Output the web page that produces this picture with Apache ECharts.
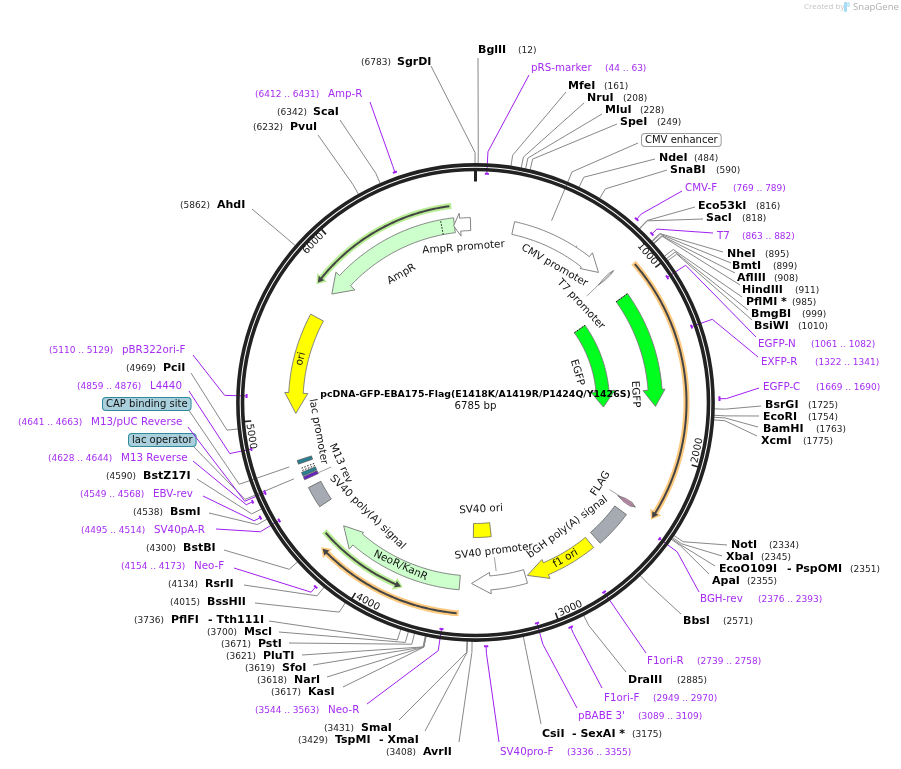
<!DOCTYPE html>
<html>
<head>
<meta charset="utf-8">
<style>html,body{margin:0;background:#fff}#map{width:901px;height:769px}</style>
<script src="https://cdn.jsdelivr.net/npm/echarts@6/dist/echarts.min.js"></script>
</head>
<body>
<div id="map"></div>
<script>
const plasmidName = 'pcDNA-GFP-EBA175-Flag(E1418K/A1419R/P1424Q/Y1426S)';
const plasmidLength = 6785;
const tickPositions = [1000, 2000, 3000, 4000, 5000, 6000];

// restriction sites
const siteNames = ['BglII','MfeI','NruI','MluI','SpeI','NdeI','SnaBI','Eco53kI','SacI','NheI','BmtI','AflIII','HindIII','PflMI *','BmgBI','BsiWI','BsrGI','EcoRI','BamHI','XcmI','NotI','XbaI','EcoO109I','ApaI','BbsI','DraIII','CsiI','AvrII','TspMI','SmaI','KasI','NarI','SfoI','PluTI','PstI','MscI','PflFI','BssHII','RsrII','BstBI','BsmI','BstZ17I','PciI','AhdI','PvuI','ScaI','SgrDI'];
const sitePositions = [12,161,208,228,249,484,590,816,818,895,899,908,911,985,999,1010,1725,1754,1763,1775,2334,2345,2351,2355,2571,2885,3175,3408,3429,3431,3617,3618,3619,3621,3671,3700,3736,4015,4134,4300,4538,4590,4969,5862,6232,6342,6783];
const siteAliases = {EcoO109I: '- PspOMI', CsiI: '- SexAI *', TspMI: '- XmaI', PflFI: '- Tth111I'};

// primers
const primerNames = ['pRS-marker','CMV-F','T7','EGFP-N','EXFP-R','EGFP-C','BGH-rev','F1ori-R','F1ori-F',"pBABE 3'",'SV40pro-F','Neo-R','Neo-F','SV40pA-R','EBV-rev','M13 Reverse','M13/pUC Reverse','L4440','pBR322ori-F','Amp-R'];
const primerStarts = [44,769,863,1061,1322,1669,2376,2739,2949,3089,3336,3544,4154,4495,4549,4628,4641,4859,5110,6412];
const primerEnds = [63,789,882,1082,1341,1690,2393,2758,2970,3109,3355,3563,4173,4514,4568,4644,4663,4876,5129,6431];

// features that only show as a boxed label
const boxNames = ['CMV enhancer','CAP binding site','lac operator'];
const boxPositions = [428,4729,4659];

// feature arrows: tail, start of head, tip (bp)
const featureNames = ['AmpR','AmpR promoter','ori','CMV promoter','EGFP outer','EGFP inner','f1 ori','SV40 promoter','NeoR/KanR'];
const featureTails = [6657,6755,5620,230,1025,1033,2654,3090,3487];
const featureBases = [5900,6692,5146,716,1620,1602,2960,3304,4160];
const featureTips = [5787,6652,5023,818,1720,1735,3078,3416,4277];

// features without a head
const blockNames = ['bGH poly(A) signal','SV40 poly(A) signal','SV40 ori','CAP binding site','lac promoter','lac operator','M13 rev'];
const blockStarts = [2386,4452,3266,4727,4677,4654,4630];
const blockEnds = [2610,4580,3410,4749,4707,4676,4649];

// translated regions
const orfNames = ['AmpR','NeoR/KanR','EGFP','NeoR/KanR'];
const orfStarts = [6642,4316,924,3489];
const orfEnds = [5790,3808,2322,4265];

// names written on the map
const trackLabels = ['AmpR promoter','AmpR','ori','CMV promoter','T7 promoter','EGFP','EGFP','FLAG','bGH poly(A) signal','f1 ori','SV40 promoter','SV40 ori','NeoR/KanR','SV40 poly(A) signal','M13 rev','lac promoter'];
const trackLabelPositions = [6702,6220,5353,565,886,1387,1640,2318,2706,2827,3261,3336,3858,4231,4631,4891];

// layout, all pixels: [name x, number x, y, leader end x, leader end y, alias x]
const siteLayout = [[478,518,50,478,58],[568,604,86,566,92],[587,623,98,584,103],[605,640,110,602,114],[620,657,122,617,124],[659,694,158,655,159],[670,716,170,667,170],[698,756,206,695,207],[706,742,218,703,219],[727,765,254,723,252],[732,773,266,731,263],[737,774,278,735,273],[742,795,290,740,285],[746,792,302,742,297],[751,802,314,748,310],[754,798,326,752,320],[765,808,405,761,406],[763,808,417,759,416],[763,816,429,758,427],[761,803,441,757,436],[731,769,545,727,545],[726,761,557,722,556],[719,850,569,715,566,787],[712,747,581,709,574],[683,723,621,681,614],[628,677,680,626,672],[542,632,734,541,724,572],[423,386,752,459,742],[335,298,740,425,731,379],[361,324,728,399,720],[308,271,692,343,687],[294,257,680,327,677],[282,245,668,313,665],[263,226,656,302,655],[258,221,644,289,643],[244,207,632,279,632],[171,134,620,269,621,208],[207,170,602,255,603],[205,168,584,244,585],[183,146,548,224,550],[170,133,512,209,513],[143,106,476,197,479],[163,126,368,191,373],[217,180,205,252,209],[290,253,127,318,135],[313,277,112,340,120],[397,361,62,431,66]];
const primerLayout = [[531,605,68,529,75,229],[685,733,188,682,191,244],[717,742,236,713,233,244],[758,811,344,756,337,229],[761,815,362,758,357,229],[763,816,387,759,388,244],[700,758,599,699,592,229],[647,697,661,646,653,229],[604,653,698,602,688,244],[578,638,716,577,708,229],[500,567,752,499,742,244],[328,255,710,367,704,229],[194,121,566,234,568,244],[154,81,530,216,529,229],[153,80,494,203,496,244],[121,48,458,193,461,244],[91,18,422,188,427,229],[150,77,386,189,391,229],[122,49,350,193,355,229],[328,255,94,370,102,244]];
const boxLayout = [[642,140,638,143,'#fff','#999'],[103,404,188,409,'#a9d0dc','#2f8a9b'],[129,440,192,445,'#a9d0dc','#2f8a9b']];
// [r in, r out, head in, head out, tip r, fill]
const featureLayout = [[171,186,165,191,180,'#ccffcc'],[172,185,167,190,178,'#fff'],[172.5,187,168,191,180,'#ffff00'],[172,185,170,190,179,'#fff'],[173,187,168,190,180,'#00ff1e'],[121,134,116,140,128,'#00ff1e'],[174,187,170.5,191,180.5,'#ffff00'],[174,188,170.5,192,181,'#fff'],[173.5,188,171.5,193.5,180.5,'#ccffcc']];
const blockLayout = [[173.5,188,'#a6abb3'],[173.5,187.5,'#a6abb3'],[121,135,'#ffff00'],[172.5,187.5,'#2a7f93'],[172.5,187.5,'#fff'],[172.5,187.5,'#2a7f93'],[172.5,187.5,'#6a22c4']];
const orfLayout = [[198,'#b9ee96'],[198.5,'#b9ee96'],[211,'#fcc97f'],[211.5,'#fcc97f']];
const trackLabelRadii = [155.5,148,180,158,144,106,160,149,155,180,150,107,179.5,154,148,160];
// [bp, r from, r to]
const featureLeaders = [[620,173,187],[872,154,170],[2318,160,172],[3261,156,170],[4635,158,172]];

const PURPLE = '#a020f0', GREY = '#888', FONT = '"DejaVu Sans"';

const deg2bp = 6785 / 360;
const labelRotation = (pos) => {
    let t = pos / deg2bp;
    return t > 100 && t < 270 ? t - 180 : t;
};
const line = (points, stroke, lineWidth, dash) => ({
    type: 'polyline', shape: {points}, silent: true,
    style: {stroke, lineWidth, fill: null, lineDash: dash || null}
});
const poly = (points, fill, stroke, lineWidth) => ({
    type: 'polygon', shape: {points}, silent: true,
    style: {fill, stroke: stroke || null, lineWidth: lineWidth || 0}
});
const text = (str, x, y, font, fill, extra) => ({
    type: 'text', silent: true,
    style: Object.assign({text: str, x, y, font, fill, verticalAlign: 'middle', align: 'left'}, extra || {})
});
const arc = (api, r, from, to) => {
    let n = Math.max(2, Math.ceil(Math.abs(to - from) / 12)), pts = [];
    for (let i = 0; i <= n; i++) pts.push(api.coord([r, from + (to - from) * i / n]));
    return pts;
};
// arc band with an optional head
const arrowPoints = (api, rIn, rOut, headIn, headOut, tipR, tail, base, tip) => {
    let pts = arc(api, rOut, tail, base);
    if (base !== tip) pts.push(api.coord([headOut, base]), api.coord([tipR, tip]), api.coord([headIn, base]));
    return pts.concat(arc(api, rIn, base, tail));
};
const rotated = (api, str, r, pos, font, fill) => {
    let c = api.coord([r, pos]);
    return {
        type: 'text', silent: true, x: c[0], y: c[1],
        rotation: -labelRotation(pos) * Math.PI / 180,
        style: {text: str, x: 0, y: 0, font, fill, align: 'center', verticalAlign: 'middle'}
    };
};

const base = {type: 'custom', coordinateSystem: 'polar', silent: true, animation: false};

const siteSeries = Object.assign({}, base, {
    name: 'sites',
    data: sitePositions.map((p) => [250, p]),
    renderItem: (params, api) => {
        let i = params.dataIndex, l = siteLayout[i], name = siteNames[i], pos = sitePositions[i];
        let kids = [
            line([api.coord([236, pos]), api.coord([250, pos]), [l[3], l[4]]], GREY, 1),
            text(name, l[0], l[2], 'bold 11px ' + FONT, '#000'),
            text('(' + pos + ')', l[1], l[2] + 0.5, '9px ' + FONT, '#222')
        ];
        if (siteAliases[name]) kids.push(text(siteAliases[name], l[5], l[2], 'bold 11px ' + FONT, '#000'));
        return {type: 'group', children: kids};
    }
});

const boxSeries = Object.assign({}, base, {
    name: 'boxes',
    data: boxPositions.map((p) => [250, p]),
    renderItem: (params, api) => {
        let i = params.dataIndex, l = boxLayout[i], pos = boxPositions[i];
        return {type: 'group', children: [
            line([api.coord([197, pos]), api.coord([250, pos]), [l[2], l[3]]], GREY, 1),
            text(boxNames[i], l[0], l[1], '10px ' + FONT, '#111', {
                backgroundColor: l[4], borderColor: l[5], borderWidth: 1, borderRadius: 3, padding: [1, 3, 1, 3]
            })
        ]};
    }
});

const primerSeries = Object.assign({}, base, {
    name: 'primers',
    data: primerStarts.map((p) => [240, p]),
    renderItem: (params, api) => {
        let i = params.dataIndex, l = primerLayout[i], s = primerStarts[i], e = primerEnds[i], mid = (s + e) / 2;
        return {type: 'group', children: [
            line([api.coord([l[5], mid]), api.coord([251, mid]), [l[3], l[4]]], PURPLE, 1),
            line(arc(api, l[5], s, e), PURPLE, 2),
            text(primerNames[i], l[0], l[2], '10.3px ' + FONT, '#a52cf2'),
            text('(' + s + ' .. ' + e + ')', l[1], l[2] + 0.5, '9px ' + FONT, '#a52cf2')
        ]};
    }
});

const ringSeries = Object.assign({}, base, {
    name: 'ring',
    data: [[238, 0]],
    renderItem: (params, api) => {
        let c = api.coord([0, 0]);
        let circle = (r) => ({
            type: 'circle', silent: true,
            shape: {cx: c[0], cy: c[1], r},
            style: {fill: null, stroke: '#222', lineWidth: 3.6}
        });
        return {type: 'group', children: [
            circle(237.6), circle(233),
            line([api.coord([233, 0]), api.coord([221, 0])], '#222', 3)
        ]};
    }
});

const tickSeries = Object.assign({}, base, {
    name: 'ticks',
    data: tickPositions.map((p) => [230, p]),
    renderItem: (params, api) => {
        let p = tickPositions[params.dataIndex];
        return {type: 'group', children: [
            line([api.coord([233, p]), api.coord([225, p])], '#222', 1.6),
            rotated(api, String(p), 227, p - 3.9 * deg2bp, '10px ' + FONT, '#111')
        ]};
    }
});

const orfSeries = Object.assign({}, base, {
    name: 'orfs',
    data: orfStarts.map((p) => [200, p]),
    renderItem: (params, api) => {
        let i = params.dataIndex, r = orfLayout[i][0], s = orfStarts[i], e = orfEnds[i];
        let dir = e > s ? 1 : -1, px = 6785 / (2 * Math.PI * r);
        return {type: 'group', children: [
            poly(arrowPoints(api, r - 3, r + 3, r - 6.5, r + 6.5, r, s - dir * 2 * px, e - dir * 7 * px, e + dir * 2 * px), orfLayout[i][1]),
            poly(arrowPoints(api, r - 1, r + 1, r - 3.5, r + 3.5, r, s, e - dir * 6 * px, e), '#444')
        ]};
    }
});

const featureSeries = Object.assign({}, base, {
    name: 'features',
    data: featureTails.map((p) => [180, p]),
    renderItem: (params, api) => {
        let i = params.dataIndex, l = featureLayout[i];
        let kids = [poly(arrowPoints(api, l[0], l[1], l[2], l[3], l[4], featureTails[i], featureBases[i], featureTips[i]), l[5], '#777', 0.9)];
        // dotted end on the coding features
        if (featureNames[i] === 'AmpR') kids.push(line([api.coord([l[0], 6580]), api.coord([l[1], 6580])], '#111', 1, [1.5, 1.5]));
        if (l[5] === '#00ff1e') kids.push(line([api.coord([l[0], featureTails[i]]), api.coord([l[1], featureTails[i]])], '#111', 1, [1.5, 1.5]));
        return {type: 'group', children: kids};
    }
});

const blockSeries = Object.assign({}, base, {
    name: 'blocks',
    data: blockStarts.map((p) => [180, p]),
    renderItem: (params, api) => {
        let i = params.dataIndex, l = blockLayout[i], s = blockStarts[i], e = blockEnds[i];
        let kids = [poly(arrowPoints(api, l[0], l[1], 0, 0, 0, s, e, e), l[2], blockNames[i] === 'lac promoter' ? null : '#555', 0.7)];
        if (blockNames[i] === 'lac promoter') {
            kids.push(line([api.coord([l[0], s + 8]), api.coord([l[1], s + 8])], '#222', 1, [1.5, 1.5]));
            kids.push(line([api.coord([l[0], e - 8]), api.coord([l[1], e - 8])], '#222', 1, [1.5, 1.5]));
        }
        return {type: 'group', children: kids};
    }
});

// the T7 promoter and FLAG are so short they show as slivers standing on the track
const sliverSeries = Object.assign({}, base, {
    name: 'slivers',
    data: [[180, 863], [180, 2310]],
    renderItem: (params, api) => {
        let flag = params.dataIndex === 1;
        let s = flag ? 2310 : 866, e = flag ? 2334 : 879, m = (s + e) / 2;
        return {type: 'group', children: [
            poly([api.coord([170, m]), api.coord([178, s]), api.coord([186, s]), api.coord([191, m]), api.coord([186, e]), api.coord([178, e])],
                flag ? '#c68ab0' : '#fff', '#777', 0.8),
            line([api.coord([170, m]), api.coord([191, m])], '#777', 0.7)
        ]};
    }
});

const leaderSeries = Object.assign({}, base, {
    name: 'featureLeaders',
    data: featureLeaders.map((l) => [l[1], l[0]]),
    renderItem: (params, api) => {
        let l = featureLeaders[params.dataIndex];
        return line([api.coord([l[1], l[0]]), api.coord([l[2], l[0]])], GREY, 0.8);
    }
});

const labelSeries = Object.assign({}, base, {
    name: 'trackLabels',
    data: trackLabelPositions.map((p, i) => [trackLabelRadii[i], p]),
    renderItem: (params, api) => {
        let i = params.dataIndex;
        return rotated(api, trackLabels[i], trackLabelRadii[i], trackLabelPositions[i], '10.4px ' + FONT, '#111');
    }
});

const chart = echarts.init(document.getElementById('map'), null, {renderer: 'canvas'});
chart.setOption({
    backgroundColor: '#fff',
    animation: false,
    title: {
        text: plasmidName,
        subtext: plasmidLength + ' bp',
        left: 475.5, top: 388.5, textAlign: 'center', itemGap: 0, padding: 0,
        textStyle: {fontFamily: 'DejaVu Sans', fontWeight: 'bold', fontSize: 9.4, color: '#000', lineHeight: 12},
        subtextStyle: {fontFamily: 'DejaVu Sans', fontSize: 10.2, color: '#111', lineHeight: 12}
    },
    polar: {center: [475.5, 402.5], radius: 300},
    angleAxis: {type: 'value', min: 0, max: plasmidLength, startAngle: 90, clockwise: true, show: false},
    radiusAxis: {type: 'value', min: 0, max: 300, show: false},
    graphic: [
        {type: 'text', x: 804, y: 3, silent: true, style: {text: 'Created by', font: '8px "Open Sans"', fill: '#c4c4c4'}},
        {type: 'rect', x: 844, y: 2, silent: true, shape: {width: 3, height: 10, r: 1}, style: {fill: '#a8dcf5'}},
        {type: 'rect', x: 847, y: 2, silent: true, shape: {width: 3, height: 5, r: 1}, style: {fill: '#c8e9f8'}},
        {type: 'text', x: 853, y: 2, silent: true, style: {text: 'SnapGene', font: '9.6px "Open Sans"', fill: '#b0b0b0'}}
    ],
    series: [siteSeries, boxSeries, primerSeries, ringSeries, tickSeries, orfSeries, leaderSeries, featureSeries, blockSeries, sliverSeries, labelSeries]
});
</script>
</body>
</html>
